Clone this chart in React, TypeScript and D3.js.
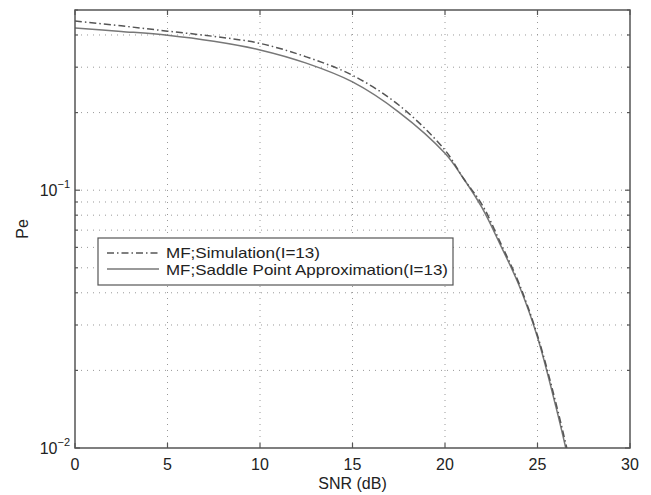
import React from "react";
import * as d3 from "d3";

const snrSim = [0, 2.5, 5, 7.5, 10, 12.5, 15, 17.5, 20, 21, 22, 23, 24, 25, 26, 26.7];
const peSim = [0.453, 0.434, 0.414, 0.395, 0.371, 0.329, 0.279, 0.214, 0.143, 0.111, 0.088, 0.0625, 0.0435, 0.0273, 0.0149, 0.0092];

const snrSaddle = [0, 2.5, 5, 7.5, 10, 12.5, 15, 17.5, 20, 21, 22, 23, 24, 25, 26, 26.6];
const peSaddle = [0.426, 0.413, 0.399, 0.378, 0.350, 0.311, 0.263, 0.201, 0.139, 0.111, 0.0855, 0.0612, 0.0428, 0.0269, 0.0144, 0.0095];

const xTicks = [0, 5, 10, 15, 20, 25, 30];
const yMajor = [0.01, 0.1];
const yMinor = [0.02, 0.03, 0.04, 0.05, 0.06, 0.07, 0.08, 0.09, 0.2, 0.3, 0.4, 0.5];
const legendLabels = ["MF;Simulation(I=13)", "MF;Saddle Point Approximation(I=13)"];

const W = 651, H = 495;
const L = 75, R = 630, T = 10, B = 448;

export default function App() {
  const x = d3.scaleLinear().domain([0, 30]).range([L, R]);
  const y = d3.scaleLog().domain([0.01, 0.5]).range([B, T]);
  const line = d3
    .line<[number, number]>()
    .x((d) => x(d[0]))
    .y((d) => y(d[1]))
    .curve(d3.curveCatmullRom.alpha(0.5));
  const simPath = line(snrSim.map((s, i) => [s, peSim[i]] as [number, number])) || "";
  const sadPath = line(snrSaddle.map((s, i) => [s, peSaddle[i]] as [number, number])) || "";
  const axisColor = "#555";
  const gridColor = "#999";
  const font = "Liberation Sans, Arial, sans-serif";
  const allY = [...yMajor, ...yMinor];
  const fs = 16;
  return (
    <svg width={W} height={H} style={{ position: "absolute", left: 0, top: 0, background: "#fff" }} fontFamily={font}>
      <defs>
        <clipPath id="plotclip">
          <rect x={L} y={T} width={R - L} height={B - T} />
        </clipPath>
      </defs>
      <rect x={0} y={0} width={W} height={H} fill="#fff" />
      {xTicks.slice(1, -1).map((t) => (
        <line key={"gx" + t} x1={x(t)} x2={x(t)} y1={T} y2={B} stroke={gridColor} strokeWidth={1} strokeDasharray="1,5" />
      ))}
      {allY.filter((v) => v > 0.01 && v < 0.5).map((v) => (
        <line key={"gy" + v} x1={L} x2={R} y1={y(v)} y2={y(v)} stroke={gridColor} strokeWidth={1} strokeDasharray="1,5" />
      ))}
      <g clipPath="url(#plotclip)" fill="none">
        <path d={sadPath} stroke="#777" strokeWidth={1.5} />
        <path d={simPath} stroke="#555" strokeWidth={1.5} strokeDasharray="7,3,1.5,3" />
      </g>
      <rect x={L} y={T} width={R - L} height={B - T} fill="none" stroke={axisColor} strokeWidth={1.5} />
      {xTicks.map((t) => (
        <g key={"xt" + t}>
          <line x1={x(t)} x2={x(t)} y1={B} y2={B - 5} stroke={axisColor} strokeWidth={1.2} />
          <line x1={x(t)} x2={x(t)} y1={T} y2={T + 5} stroke={axisColor} strokeWidth={1.2} />
          <text x={x(t)} y={B + 22} textAnchor="middle" fontSize={fs} fill="#222">
            {t}
          </text>
        </g>
      ))}
      {allY.map((v) => {
        const len = yMajor.includes(v) ? 5 : 3;
        return (
          <g key={"yt" + v}>
            <line x1={L} x2={L + len} y1={y(v)} y2={y(v)} stroke={axisColor} strokeWidth={1.2} />
            <line x1={R} x2={R - len} y1={y(v)} y2={y(v)} stroke={axisColor} strokeWidth={1.2} />
          </g>
        );
      })}
      {yMajor.map((v) => (
        <text key={"yl" + v} x={L - 5} y={y(v) + 6} textAnchor="end" fontSize={fs} fill="#222">
          <tspan>10</tspan>
          <tspan dy={-8} fontSize={11}>{"\u2212" + Math.round(-Math.log10(v))}</tspan>
        </text>
      ))}
      <text x={(L + R) / 2} y={489} textAnchor="middle" fontSize={fs} fill="#222">
        SNR (dB)
      </text>
      <text transform={`translate(28,${(T + B) / 2}) rotate(-90)`} textAnchor="middle" fontSize={fs} fill="#222">
        Pe
      </text>
      <g>
        <rect x={98} y={238} width={355} height={47} fill="#fff" stroke={axisColor} strokeWidth={1.2} />
        <line x1={107} x2={159} y1={253} y2={253} stroke="#555" strokeWidth={1.5} strokeDasharray="7,3,1.5,3" />
        <line x1={107} x2={159} y1={269} y2={269} stroke="#777" strokeWidth={1.5} />
        <text x={166} y={258} fontSize={15} fill="#222" textLength={154} lengthAdjust="spacingAndGlyphs">{legendLabels[0]}</text>
        <text x={166} y={275} fontSize={15} fill="#222" textLength={282} lengthAdjust="spacingAndGlyphs">{legendLabels[1]}</text>
      </g>
    </svg>
  );
}
